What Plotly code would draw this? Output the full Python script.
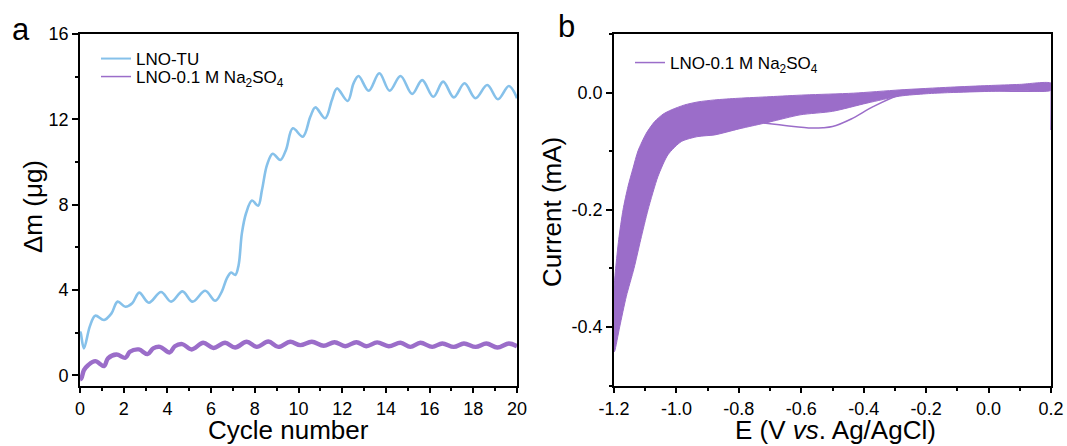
import plotly.graph_objects as go

W, H = 1067, 446

# ---------------- data: panel a (mass change vs cycle) ----------------
tu_cycle = [0.0, 0.03, 0.18, 0.45, 0.70, 1.10, 1.44, 1.72, 2.08, 2.39, 2.71, 3.15, 3.71, 4.17, 4.69,
            5.15, 5.73, 6.19, 6.49, 6.72, 6.92, 7.11, 7.26, 7.41, 7.60, 7.87, 8.15, 8.33, 8.56, 8.82,
            9.17, 9.43, 9.74, 10.20, 10.54, 10.77, 11.22, 11.53, 11.76, 12.25, 12.52, 12.75, 13.21,
            13.70, 14.17, 14.67, 15.20, 15.66, 16.17, 16.62, 17.11, 17.60, 18.10, 18.64, 19.13, 19.63, 20.0]
tu_mass = [2.05, 2.0, 1.27, 2.30, 2.80, 2.60, 2.91, 3.46, 3.22, 3.38, 3.88, 3.41, 3.91, 3.46, 3.94,
           3.46, 3.97, 3.50, 3.93, 4.55, 4.82, 4.71, 5.18, 6.67, 7.60, 8.20, 7.95, 8.70, 9.87, 10.39,
           10.10, 10.58, 11.58, 11.19, 12.12, 12.56, 12.05, 12.91, 13.45, 12.86, 13.69, 14.03, 13.34,
           14.16, 13.34, 14.03, 13.19, 13.84, 13.06, 13.77, 13.03, 13.69, 12.99, 13.61, 12.94, 13.56, 12.99]

na_cycle = [0.0, 0.06, 0.18, 0.37, 0.70, 1.10, 1.28, 1.67, 2.08, 2.28, 2.69, 3.09, 3.35, 3.66, 4.11,
            4.34, 4.68, 5.11, 5.64, 6.10, 6.64, 7.10, 7.63, 8.09, 8.62, 9.08, 9.62, 10.08, 10.61, 11.15,
            11.65, 12.14, 12.65, 13.10, 13.60, 14.13, 14.67, 15.12, 15.58, 16.12, 16.58, 17.11, 17.57,
            18.11, 18.60, 19.10, 19.63, 20.0]
na_mass = [-0.18, -0.14, 0.25, 0.48, 0.67, 0.44, 0.80, 0.98, 0.83, 1.11, 1.22, 1.00, 1.27, 1.34, 1.08,
           1.37, 1.47, 1.22, 1.53, 1.29, 1.53, 1.31, 1.58, 1.34, 1.59, 1.34, 1.58, 1.42, 1.58, 1.39,
           1.56, 1.37, 1.56, 1.37, 1.55, 1.37, 1.53, 1.34, 1.53, 1.34, 1.50, 1.34, 1.50,
           1.34, 1.50, 1.31, 1.50, 1.37]

# ---------------- data: panel b (CV envelope of repeated cycles) ----------------
cv_upper_E = [-1.2, -1.1947, -1.185, -1.171, -1.155, -1.139, -1.123, -1.0964, -1.0697, -1.043, -1.0162,
              -0.9735, -0.9308, -0.8774, -0.802, -0.70, -0.588, -0.433, -0.284, -0.123, 0.0, 0.1, 0.2]
cv_upper_I = [-0.331, -0.300, -0.251, -0.200, -0.160, -0.129, -0.0994, -0.0693, -0.0494, -0.0369, -0.0295,
              -0.021, -0.0159, -0.0125, -0.0097, -0.007, -0.004, -0.001, 0.0046, 0.0092, 0.012, 0.014, 0.016]
cv_lower_E = [0.2, 0.1, 0.0, -0.123, -0.2, -0.284, -0.39, -0.50, -0.604, -0.70, -0.80, -0.877,
              -0.931, -0.984, -1.027, -1.059, -1.091, -1.1145, -1.1359, -1.1605, -1.1818, -1.1979, -1.2]
cv_lower_I = [0.004, 0.003, 0.002, 0.0, -0.002, -0.006, -0.018, -0.032, -0.038, -0.050, -0.062, -0.0722,
              -0.075, -0.0835, -0.106, -0.143, -0.200, -0.2511, -0.300, -0.3477, -0.400, -0.4415, -0.443]
cv_first_E = [-0.72, -0.64, -0.567, -0.53, -0.50, -0.44, -0.37, -0.284, -0.177, -0.017, 0.197, 0.2, 0.2]
cv_first_I = [-0.052, -0.057, -0.0605, -0.060, -0.058, -0.045, -0.024, -0.004, 0.0017, 0.0034, 0.0058,
              0.016, -0.064]

# ---------------- tick labels ----------------
a_xticks = [0, 2, 4, 6, 8, 10, 12, 14, 16, 18, 20]
a_xtext = ["0", "2", "4", "6", "8", "10", "12", "14", "16", "18", "20"]
a_yticks = [0, 4, 8, 12, 16]
a_ytext = ["0", "4", "8", "12", "16"]
b_xticks = [-1.2, -1.0, -0.8, -0.6, -0.4, -0.2, 0.0, 0.2]
b_xtext = ["-1.2", "-1.0", "-0.8", "-0.6", "-0.4", "-0.2", "0.0", "0.2"]
b_yticks = [-0.4, -0.2, 0.0]
b_ytext = ["-0.4", "-0.2", "0.0"]

BLUE = "#86C1EA"
PURPLE = "#9B6DC9"
FONT = "Liberation Sans, Arial, sans-serif"

fig = go.Figure()

# panel a
fig.add_trace(go.Scatter(x=tu_cycle, y=tu_mass, mode="lines", line=dict(color=BLUE, width=2.6, shape="spline", smoothing=1.0),
                         xaxis="x", yaxis="y", showlegend=False))
fig.add_trace(go.Scatter(x=na_cycle, y=na_mass, mode="lines", line=dict(color=PURPLE, width=4.4, shape="spline", smoothing=1.0),
                         xaxis="x", yaxis="y", showlegend=False))
# legend entries for panel a
fig.add_trace(go.Scatter(x=[None], y=[None], mode="lines", line=dict(color=BLUE, width=2),
                         name="LNO-TU", xaxis="x", yaxis="y", legend="legend"))
fig.add_trace(go.Scatter(x=[None], y=[None], mode="lines", line=dict(color=PURPLE, width=1.5),
                         name="LNO-0.1 M Na<sub>2</sub>SO<sub>4</sub>", xaxis="x", yaxis="y", legend="legend3"))

# panel b: envelope of cycles
fig.add_trace(go.Scatter(x=cv_upper_E + cv_lower_E, y=cv_upper_I + cv_lower_I, mode="lines", fill="toself",
                         fillcolor=PURPLE, line=dict(color=PURPLE, width=1, shape="spline", smoothing=0.7),
                         xaxis="x2", yaxis="y2", showlegend=False))
fig.add_trace(go.Scatter(x=cv_first_E, y=cv_first_I, mode="lines", line=dict(color=PURPLE, width=1.5, shape="spline", smoothing=0.8),
                         xaxis="x2", yaxis="y2", showlegend=False))
fig.add_trace(go.Scatter(x=[None], y=[None], mode="lines", line=dict(color=PURPLE, width=1.5),
                         name="LNO-0.1 M Na<sub>2</sub>SO<sub>4</sub>", xaxis="x2", yaxis="y2", legend="legend2"))

ax_common = dict(showline=True, linecolor="black", linewidth=1.6, mirror=True, ticks="outside", ticklen=6,
                 tickwidth=1.5, tickcolor="black", showgrid=False, zeroline=False, automargin=False,
                 tickfont=dict(family=FONT, size=18, color="black"), tickmode="array", layer="below traces")
minor_common = dict(ticks="outside", ticklen=3.5, tickwidth=1.5, tickcolor="black", showgrid=False)
leg_common = dict(xanchor="left", yanchor="top", bgcolor="rgba(0,0,0,0)",
                  font=dict(family=FONT, size=17, color="black"), itemwidth=30)

ydom = [1 - 385.5 / H, 1 - 34 / H]
fig.update_layout(
    template="none",
    width=W, height=H, margin=dict(l=0, r=0, t=0, b=0, autoexpand=False),
    paper_bgcolor="white", plot_bgcolor="white",
    font=dict(family=FONT, color="black"),
    xaxis=dict(ax_common, domain=[80 / W, 517 / W], range=[0, 20], tickvals=a_xticks, ticktext=a_xtext,
               minor=dict(minor_common, tickmode="linear", tick0=0, dtick=1), anchor="y"),
    yaxis=dict(ax_common, domain=ydom, range=[-0.47, 16], tickvals=a_yticks, ticktext=a_ytext,
               minor=dict(minor_common, tickmode="linear", tick0=0, dtick=2), anchor="x"),
    xaxis2=dict(ax_common, domain=[614 / W, 1051 / W], range=[-1.2, 0.2], tickvals=b_xticks, ticktext=b_xtext,
                minor=dict(minor_common, tickmode="linear", tick0=-1.2, dtick=0.1), anchor="y2"),
    yaxis2=dict(ax_common, domain=ydom, range=[-0.5, 0.1], tickvals=b_yticks, ticktext=b_ytext,
                minor=dict(minor_common, tickmode="linear", tick0=-0.5, dtick=0.1), anchor="x2"),
    legend=dict(leg_common, x=96 / W, y=1 - 41 / H),
    legend3=dict(leg_common, x=96 / W, y=1 - 59 / H),
    legend2=dict(leg_common, x=630 / W, y=1 - 45 / H),
    annotations=[
        dict(text="a", x=21 / W, y=1 - 30 / H, xref="paper", yref="paper", showarrow=False,
             font=dict(family=FONT, size=31, color="black"), xanchor="center", yanchor="middle"),
        dict(text="b", x=566 / W, y=1 - 27 / H, xref="paper", yref="paper", showarrow=False,
             font=dict(family=FONT, size=31, color="black"), xanchor="center", yanchor="middle"),
        dict(text="Cycle number", x=288 / W, y=1 - 430 / H, xref="paper", yref="paper", showarrow=False,
             font=dict(family=FONT, size=26, color="black"), xanchor="center", yanchor="middle"),
        dict(text="E (V <i>vs</i>. Ag/AgCl)", x=835 / W, y=1 - 430 / H, xref="paper", yref="paper", showarrow=False,
             font=dict(family=FONT, size=26, color="black"), xanchor="center", yanchor="middle"),
        dict(text="Δm (μg)", x=33 / W, y=1 - 207 / H, xref="paper", yref="paper", showarrow=False, textangle=-90,
             font=dict(family=FONT, size=26, color="black"), xanchor="center", yanchor="middle"),
        dict(text="Current (mA)", x=552 / W, y=1 - 212 / H, xref="paper", yref="paper", showarrow=False, textangle=-90,
             font=dict(family=FONT, size=26, color="black"), xanchor="center", yanchor="middle"),
    ],
)

fig.write_html("out.html")
